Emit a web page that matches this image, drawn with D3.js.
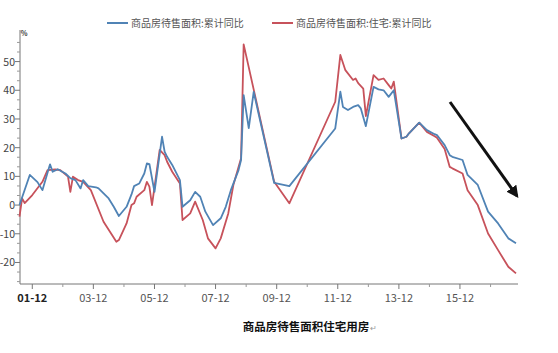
<!DOCTYPE html>
<meta charset="utf-8">
<head>
    <script type="text/javascript" src="https://cdn.jsdelivr.net/npm/d3@7/dist/d3.min.js"></script>
    <style>
        body { margin: 0; background: #fff; }
        text { font-family: "Noto Sans CJK SC", "Noto Sans", sans-serif; }
    </style>
    <title>商品房待售面积住宅用房</title>
</head>

<body>
    <div id="chart"></div>

    <script type="text/javascript">

        // series 1: 商品房待售面积:累计同比 (blue)
        var blueDates = ["2001-07","2001-11","2002-02","2002-04","2002-07","2002-08","2002-10","2003-01","2003-03","2003-05",
                         "2003-07","2003-08","2003-10","2004-01","2004-02","2004-06","2004-08","2004-10","2005-01","2005-03",
                         "2005-04","2005-06","2005-08","2005-09","2005-10","2005-12","2006-03","2006-04","2006-05","2006-07",
                         "2006-10","2006-11","2007-02","2007-04","2007-06","2007-08","2007-11","2008-02","2008-04","2008-06",
                         "2008-09","2008-10","2008-11","2009-01","2009-03","2009-11","2010-05","2011-11","2012-01","2012-02",
                         "2012-04","2012-06","2012-08","2012-09","2012-11","2013-02","2013-04","2013-06","2013-08","2013-10",
                         "2014-01","2014-03","2014-04","2014-08","2014-11","2015-02","2015-03","2015-06","2015-08","2015-09",
                         "2016-01","2016-03","2016-07","2016-11","2017-03","2017-07","2017-10"];
        var blueValues = [0, 10.5, 8, 5.2, 14.2, 11.6, 12.5, 11, 9.4, 8.7,
                          5.8, 8.7, 6.6, 6.2, 5.8, 2.3, -0.6, -3.8, -0.6, 3.7,
                          6.6, 7.5, 11, 14.5, 14.3, 4.6, 23.8, 18.6, 16.8, 14,
                          8.7, -0.6, 1.7, 4.6, 2.9, -2.3, -7, -4.6, -0.6, 5.2,
                          12.2, 15.7, 38.3, 26.8, 39.4, 7.7, 6.6, 26.7, 39.5, 34.2,
                          33.1, 34.2, 34.8, 33.7, 27.5, 41.2, 40.3, 40, 37.7, 40,
                          23.2, 23.8, 25, 28.7, 26.1, 24.7, 24.4, 20.9, 17.4, 16.8,
                          15.7, 10.5, 7, -2.3, -6.4, -11.6, -13.3];

        // series 2: 商品房待售面积:住宅:累计同比 (red)
        var redDates = ["2001-07","2001-08","2001-09","2001-12","2002-04","2002-06","2002-09","2002-11","2003-02","2003-03",
                        "2003-04","2003-06","2003-08","2003-11","2004-04","2004-09","2004-10","2005-01","2005-03","2005-04",
                        "2005-05","2005-08","2005-09","2005-10","2005-11","2006-02","2006-04","2006-05","2006-07","2006-10",
                        "2006-11","2007-02","2007-04","2007-07","2007-09","2007-12","2008-02","2008-05","2008-07","2008-10",
                        "2008-11","2009-11","2010-05","2011-11","2012-01","2012-03","2012-06","2012-07","2012-08","2012-10",
                        "2012-11","2013-02","2013-04","2013-06","2013-08","2013-09","2013-10","2014-01","2014-03","2014-04",
                        "2014-08","2014-11","2015-02","2015-03","2015-06","2015-08","2015-09","2016-01","2016-03","2016-07",
                        "2016-11","2017-03","2017-07","2017-10"];
        var redValues = [-4, 2.3, 0.7, 3.5, 8.1, 12.2, 12.4, 12.2, 9.9, 4.6,
                         9.9, 8.7, 8.1, 5.2, -5.8, -12.8, -12.2, -6.4, 0, 0.6,
                         2.9, 5.2, 8.1, 6.4, 0, 19.2, 17.4, 15.1, 11.6, 7.5,
                         -5.2, -2.9, 1.2, -5.2, -11.6, -15.1, -11.6, -2.9, 7, 16.3,
                         56, 8.1, 0.6, 36, 52.3, 47, 43.6, 44.1, 42.5, 40.6,
                         31, 45.3, 43.6, 44.1, 41.8, 40.6, 43, 23.2, 23.8, 25,
                         28.7, 25.5, 24, 23.5, 19.5, 13.3, 12.8, 11, 5.2, 0,
                         -9.9, -15.7, -21.5, -23.8];

        // axis labels
        var xTickLabels = ["01-12","03-12","05-12","07-12","09-12","11-12","13-12","15-12"];
        var yTickValues = [-20, -10, 0, 10, 20, 30, 40, 50];
        var legendNames = ["商品房待售面积:累计同比", "商品房待售面积:住宅:累计同比"];
        var chartTitle = "商品房待售面积住宅用房";

        var w = 558;
        var h = 353;
        var blue = "#5083b5";
        var red = "#c7525b";

        var svg = d3.select("#chart")
                    .append("svg")
                    .attr("width", w)
                    .attr("height", h);

        svg.append("rect").attr("width", w).attr("height", h).attr("fill", "#fff");

        var parseMonth = d3.timeParse("%Y-%m");

        var x = d3.scaleTime()
                  .domain([new Date(2001, 6, 7), new Date(2017, 9, 25)])
                  .range([20, 518]);

        var y = d3.scaleLinear()
                  .domain([-27.5, 61])
                  .range([284, 30]);

        // x axis: labelled ticks every other December, minor ticks in between
        var labelDates = xTickLabels.map(function(s) {
            return new Date(2000 + (+s.split("-")[0]), 11, 1);
        });
        var minorDates = d3.range(2002, 2017, 2).map(function(yr) { return new Date(yr, 11, 1); });

        var xAxis = svg.append("g").attr("transform", "translate(0,284)");
        xAxis.append("line")
             .attr("x1", 20).attr("x2", 518)
             .attr("stroke", "#777").attr("stroke-width", 1);
        xAxis.selectAll(".major")
             .data(labelDates).enter()
             .append("line")
             .attr("x1", function(d) { return x(d); })
             .attr("x2", function(d) { return x(d); })
             .attr("y1", 0).attr("y2", 5)
             .attr("stroke", "#777");
        xAxis.selectAll(".minor")
             .data(minorDates).enter()
             .append("line")
             .attr("x1", function(d) { return x(d); })
             .attr("x2", function(d) { return x(d); })
             .attr("y1", 0).attr("y2", 3)
             .attr("stroke", "#999");
        xAxis.selectAll("text")
             .data(labelDates).enter()
             .append("text")
             .attr("x", function(d) { return x(d); })
             .attr("y", 18)
             .attr("text-anchor", "middle")
             .attr("font-size", 11)
             .attr("font-weight", function(d, i) { return i === 0 ? "bold" : "normal"; })
             .attr("fill", function(d, i) { return i === 0 ? "#222" : "#555"; })
             .text(function(d, i) { return xTickLabels[i]; });

        // y axis
        var yAxis = svg.append("g");
        yAxis.append("line")
             .attr("x1", 20).attr("x2", 20)
             .attr("y1", y(61)).attr("y2", y(-27.5))
             .attr("stroke", "#777");
        var yMinor = d3.range(-8, 19).filter(function(i) { return i % 3 !== 0; })
                       .map(function(i) { return i * 10 / 3; });
        yAxis.selectAll(".minor")
             .data(yMinor).enter()
             .append("line")
             .attr("x1", 17).attr("x2", 20)
             .attr("y1", function(d) { return y(d); })
             .attr("y2", function(d) { return y(d); })
             .attr("stroke", "#999");
        yAxis.selectAll(".major")
             .data(yTickValues).enter()
             .append("line")
             .attr("x1", 15).attr("x2", 20)
             .attr("y1", function(d) { return y(d); })
             .attr("y2", function(d) { return y(d); })
             .attr("stroke", "#777");
        yAxis.selectAll("text")
             .data(yTickValues).enter()
             .append("text")
             .attr("x", 15)
             .attr("y", function(d) { return y(d) + 4; })
             .attr("text-anchor", "end")
             .attr("font-size", 10.5)
             .attr("fill", "#444")
             .text(function(d) { return d; });
        yAxis.append("text")
             .attr("x", 24).attr("y", 36)
             .attr("text-anchor", "middle")
             .attr("font-size", 7)
             .attr("font-weight", "bold")
             .attr("fill", "#333")
             .text("%");

        // lines
        var line = d3.line()
                     .x(function(d) { return x(d.date); })
                     .y(function(d) { return y(d.value); });

        var blueData = blueDates.map(function(d, i) { return {date: parseMonth(d), value: blueValues[i]}; });
        var redData = redDates.map(function(d, i) { return {date: parseMonth(d), value: redValues[i]}; });

        svg.append("path")
           .datum(redData)
           .attr("d", line)
           .attr("fill", "none")
           .attr("stroke", red)
           .attr("stroke-width", 1.8)
           .attr("stroke-linejoin", "round");

        svg.append("path")
           .datum(blueData)
           .attr("d", line)
           .attr("fill", "none")
           .attr("stroke", blue)
           .attr("stroke-width", 1.8)
           .attr("stroke-linejoin", "round");

        // legend
        var legendX = [107, 272];
        var legendColors = [blue, red];
        var legend = svg.selectAll(".legend")
                        .data(legendNames).enter()
                        .append("g")
                        .attr("transform", function(d, i) { return "translate(" + legendX[i] + ",23)"; });
        legend.append("line")
              .attr("x1", 0).attr("x2", 21)
              .attr("stroke", function(d, i) { return legendColors[i]; })
              .attr("stroke-width", 2);
        legend.append("text")
              .attr("x", 24).attr("y", 3.5)
              .attr("font-size", 10)
              .attr("fill", "#555")
              .text(function(d) { return d; });

        // arrow
        var defs = svg.append("defs");
        defs.append("marker")
            .attr("id", "arrowhead")
            .attr("viewBox", "0 0 10 10")
            .attr("refX", 8).attr("refY", 5)
            .attr("markerWidth", 4).attr("markerHeight", 4)
            .attr("orient", "auto")
            .append("path")
            .attr("d", "M0,0 L10,5 L0,10 Z")
            .attr("fill", "#111");
        svg.append("line")
           .attr("x1", 450).attr("y1", 102)
           .attr("x2", 517).attr("y2", 196)
           .attr("stroke", "#111")
           .attr("stroke-width", 3)
           .attr("marker-end", "url(#arrowhead)");

        // bottom caption
        svg.append("text")
           .attr("x", 306).attr("y", 331)
           .attr("text-anchor", "middle")
           .attr("font-size", 11.5)
           .attr("font-weight", "bold")
           .attr("fill", "#111")
           .text(chartTitle);
        svg.append("text")
           .attr("x", 370).attr("y", 331)
           .attr("font-size", 8)
           .attr("fill", "#999")
           .text("↵");

    </script>
</body>
</html>
